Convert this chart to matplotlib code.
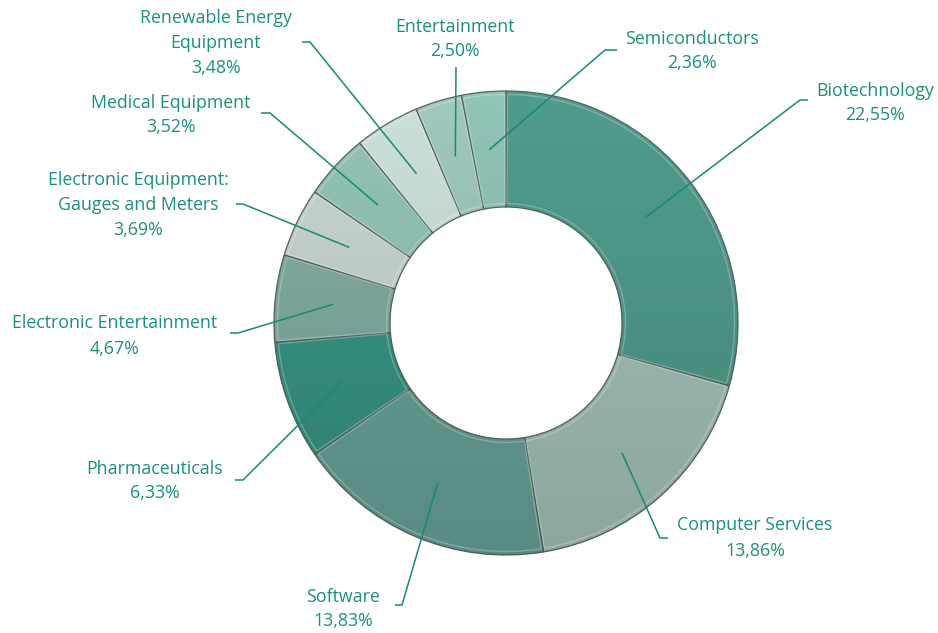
import numpy as np
import matplotlib
matplotlib.use("Agg")
import matplotlib.pyplot as plt
from matplotlib.patches import Wedge

categories = ["Biotechnology", "Computer Services", "Software", "Pharmaceuticals",
              "Electronic Entertainment", "Electronic Equipment:\nGauges and Meters",
              "Medical Equipment", "Renewable Energy\nEquipment", "Entertainment",
              "Semiconductors"]
values = [22.55, 13.86, 13.83, 6.33, 4.67, 3.69, 3.52, 3.48, 2.50, 2.36]
pct_labels = ["22,55%", "13,86%", "13,83%", "6,33%", "4,67%", "3,69%",
              "3,52%", "3,48%", "2,50%", "2,36%"]
colors = ["#509c8c", "#a3c1b8", "#67a297", "#389584", "#82ada3", "#c8d6d1",
          "#93c4b8", "#cce0db", "#9fc8be", "#90c4b7"]

W, H, DPI = 938, 633, 100
CX, CY, R = 506, 323, 232   # pixel center & radius (layout)

fig = plt.figure(figsize=(W / DPI, H / DPI), dpi=DPI)
ax = fig.add_axes([0, 0, 1, 1])
ax.axis("off")

def px(x, y):
    return (x - CX) / R, (CY - y) / R

wedges, _ = ax.pie(values, colors=colors, startangle=90, counterclock=False,
                   radius=1.0, wedgeprops=dict(width=0.5, edgecolor="#56625f",
                                               linewidth=0.9))

# subtle vertical shading on the ring (darker toward bottom)
n = 256
shade = np.zeros((n, 1, 4))
shade[..., 3] = np.linspace(0.0, 0.14, n).reshape(-1, 1)
for w in wedges:
    im = ax.imshow(shade, extent=(-1, 1, -1, 1), aspect="auto",
                   origin="upper", zorder=w.get_zorder() + 0.1)
    im.set_clip_path(w)
    w2 = Wedge(w.center, w.r - 0.015, w.theta1 + 0.4, w.theta2 - 0.4, width=0.47,
               facecolor="none", edgecolor="white", linewidth=1.0, alpha=0.25,
               zorder=w.get_zorder() + 0.2)
    ax.add_patch(w2)

ax.set_xlim(-CX / R, (W - CX) / R)
ax.set_ylim(-(H - CY) / R, CY / R)

# label layout: (text center px, elbow px, horizontal end px)
label_layout = [
    ((875, 103), (800, 100), (808, 100)),
    ((755, 538), (660, 538), (668, 538)),
    ((343, 609), (402, 605), (395, 605)),
    ((155, 481), (243, 480), (235, 480)),
    ((115, 336), (238, 333), (230, 333)),
    ((138, 205), (243, 204), (236, 204)),
    ((171, 115), (270, 113), (261, 113)),
    ((216, 43), (310, 42), (302, 42)),
    ((455, 39), (456, 67), (456, 67)),
    ((692, 51), (605, 50), (617, 50)),
]

tcolor = "#17917f"
total = sum(values)
ang = 90.0
for i, (cat, v) in enumerate(zip(categories, values)):
    span = v / total * 360
    mid = np.deg2rad(ang - span / 2)
    ang -= span
    sx, sy = 0.75 * np.cos(mid), 0.75 * np.sin(mid)
    (tx, ty), (ex, ey), (hx, hy) = label_layout[i]
    e = px(ex, ey)
    h = px(hx, hy)
    ax.plot([sx, e[0], h[0]], [sy, e[1], h[1]], color="#15897a", lw=1.1,
            zorder=10, solid_capstyle="butt")
    t = px(tx, ty)
    ax.text(t[0], t[1], f"{cat}\n{pct_labels[i]}", ha="center", va="center",
            color=tcolor, fontsize=12.8, family="Open Sans", linespacing=1.5,
            zorder=11)

fig.savefig("out.png", dpi=DPI)
